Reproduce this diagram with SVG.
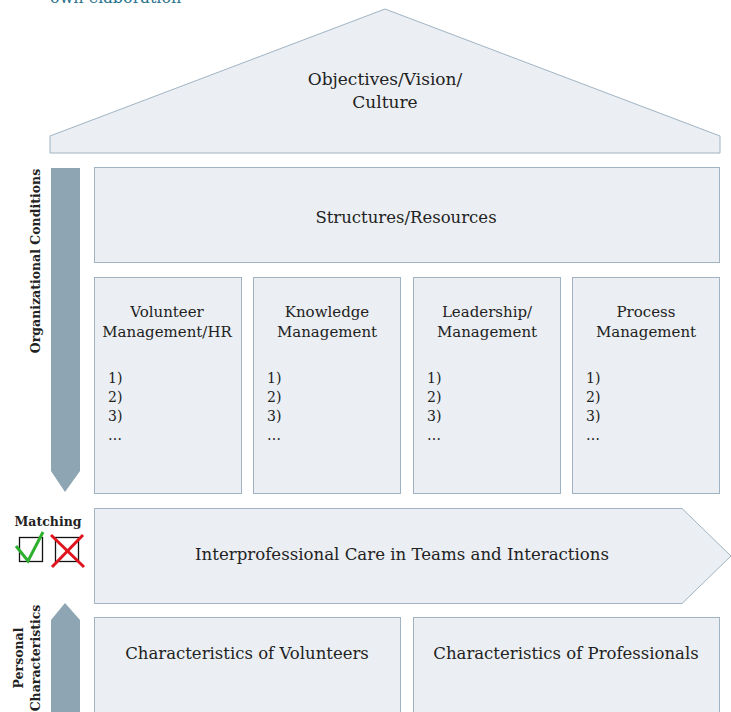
<svg xmlns="http://www.w3.org/2000/svg" width="731" height="712" viewBox="0 0 731 712">
<style>
.box{fill:#ebeff3;stroke:#9fb3c2;stroke-width:1}
.arr{fill:#8ea5b3}
.t{font-family:"DejaVu Serif","Liberation Serif",serif;fill:#222;text-anchor:middle}
.l{font-family:"DejaVu Serif","Liberation Serif",serif;fill:#222;font-size:14px}
.b{font-family:"DejaVu Serif","Liberation Serif",serif;fill:#222;font-weight:bold;text-anchor:middle;font-size:12.5px}
</style>
<rect width="731" height="712" fill="#fff"/>
<text x="50" y="3" font-family="DejaVu Serif, serif" font-size="16" fill="#27708c">own elaboration</text>
<g id="roof">
<polygon class="box" points="385,9 720,136 720,153 50,153 50,136"/>
<text class="t" font-size="17" x="385" y="85">Objectives/Vision/</text>
<text class="t" font-size="17" x="385" y="108">Culture</text>
</g>
<g id="structures">
<rect class="box" x="94.5" y="167.5" width="625" height="95"/>
<text class="t" font-size="16.5" x="406" y="223">Structures/Resources</text>
</g>
<g id="volunteer">
<rect class="box" x="94.5" y="277.5" width="147" height="216"/>
<text class="t" font-size="15" x="167" y="317">Volunteer</text>
<text class="t" font-size="15" x="167" y="337">Management/HR</text>
<text class="l" x="108" y="383">1)</text><text class="l" x="108" y="402">2)</text><text class="l" x="108" y="421">3)</text><text class="l" x="108" y="440">…</text>
</g>
<g id="knowledge">
<rect class="box" x="253.5" y="277.5" width="147" height="216"/>
<text class="t" font-size="15" x="327" y="317">Knowledge</text>
<text class="t" font-size="15" x="327" y="337">Management</text>
<text class="l" x="267" y="383">1)</text><text class="l" x="267" y="402">2)</text><text class="l" x="267" y="421">3)</text><text class="l" x="267" y="440">…</text>
</g>
<g id="leadership">
<rect class="box" x="413.5" y="277.5" width="147" height="216"/>
<text class="t" font-size="15" x="487" y="317">Leadership/</text>
<text class="t" font-size="15" x="487" y="337">Management</text>
<text class="l" x="427" y="383">1)</text><text class="l" x="427" y="402">2)</text><text class="l" x="427" y="421">3)</text><text class="l" x="427" y="440">…</text>
</g>
<g id="process">
<rect class="box" x="572.5" y="277.5" width="147" height="216"/>
<text class="t" font-size="15" x="646" y="317">Process</text>
<text class="t" font-size="15" x="646" y="337">Management</text>
<text class="l" x="586" y="383">1)</text><text class="l" x="586" y="402">2)</text><text class="l" x="586" y="421">3)</text><text class="l" x="586" y="440">…</text>
</g>
<g id="orgArrow">
<polygon class="arr" points="51,168 80,168 80,471 65,492 51,471"/>
<text class="b" transform="translate(40,261) rotate(-90)">Organizational Conditions</text>
</g>
<g id="matching">
<text class="b" x="48" y="526">Matching</text>
<rect x="19.5" y="537.5" width="23" height="24" fill="none" stroke="#111" stroke-width="1.3"/>
<rect x="55.5" y="537.5" width="23" height="24" fill="none" stroke="#111" stroke-width="1.3"/>
<polyline points="16,546 28,561 43,532" fill="none" stroke="#2db02d" stroke-width="3"/>
<line x1="51" y1="535" x2="84" y2="567" stroke="#e0141e" stroke-width="3"/>
<line x1="83" y1="535" x2="52" y2="567" stroke="#e0141e" stroke-width="3"/>
</g>
<g id="interprofessional">
<polygon class="box" points="94.5,508.5 682,508.5 731,556 682,603.5 94.5,603.5"/>
<text class="t" font-size="16.6" x="402" y="560">Interprofessional Care in Teams and Interactions</text>
</g>
<g id="persArrow">
<polygon class="arr" points="51,620 65,603 80,620 80,712 51,712"/>
<text class="b" transform="translate(23,658) rotate(-90)">Personal</text>
<text class="b" transform="translate(40,658) rotate(-90)">Characteristics</text>
</g>
<g id="volunteers">
<rect class="box" x="94.5" y="617.5" width="306" height="100"/>
<text class="t" font-size="16.5" x="247" y="659">Characteristics of Volunteers</text>
</g>
<g id="professionals">
<rect class="box" x="413.5" y="617.5" width="306" height="100"/>
<text class="t" font-size="16.5" x="566" y="659">Characteristics of Professionals</text>
</g>
<g id="connectors"></g>
</svg>
